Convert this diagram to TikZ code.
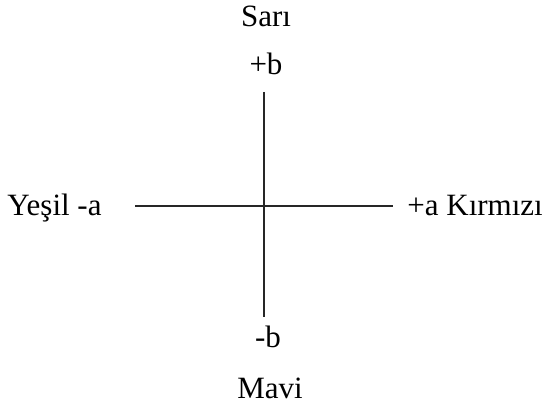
\documentclass[tikz,border=0pt]{standalone}
\usepackage{fontspec}
\setmainfont{Liberation Serif}
\usepackage{tikz}

\begin{document}
\begin{tikzpicture}[x=0.5pt,y=-0.5pt,lbl/.style={inner sep=0pt,font=\fontsize{15.5pt}{18pt}\selectfont},axis/.style={line width=0.7pt,black!85}]
  \useasboundingbox (0,0) rectangle (545,405);
  % axis ends
  \coordinate (btop) at (264,92);
  \coordinate (bbot) at (264,317);
  \coordinate (aleft) at (135,206);
  \coordinate (aright) at (393,206);
  \draw[axis] (aleft)--(aright);
  \draw[axis] (btop)--(bbot);
  % labels
  \node[lbl,anchor=base] (sari) at (266,27) {Sarı};
  \node[lbl,anchor=base] (pb) at (266,75) {+b};
  \node[lbl,anchor=base] (mb) at (268,347) {-b};
  \node[lbl,anchor=base] (mavi) at (270,398) {Mavi};
  \node[lbl,anchor=base west] (yesil) at (7,216) {Yeşil -a};
  \node[lbl,anchor=base west] (kirmizi) at (407,216) {+a Kırmızı};
\end{tikzpicture}
\end{document}
